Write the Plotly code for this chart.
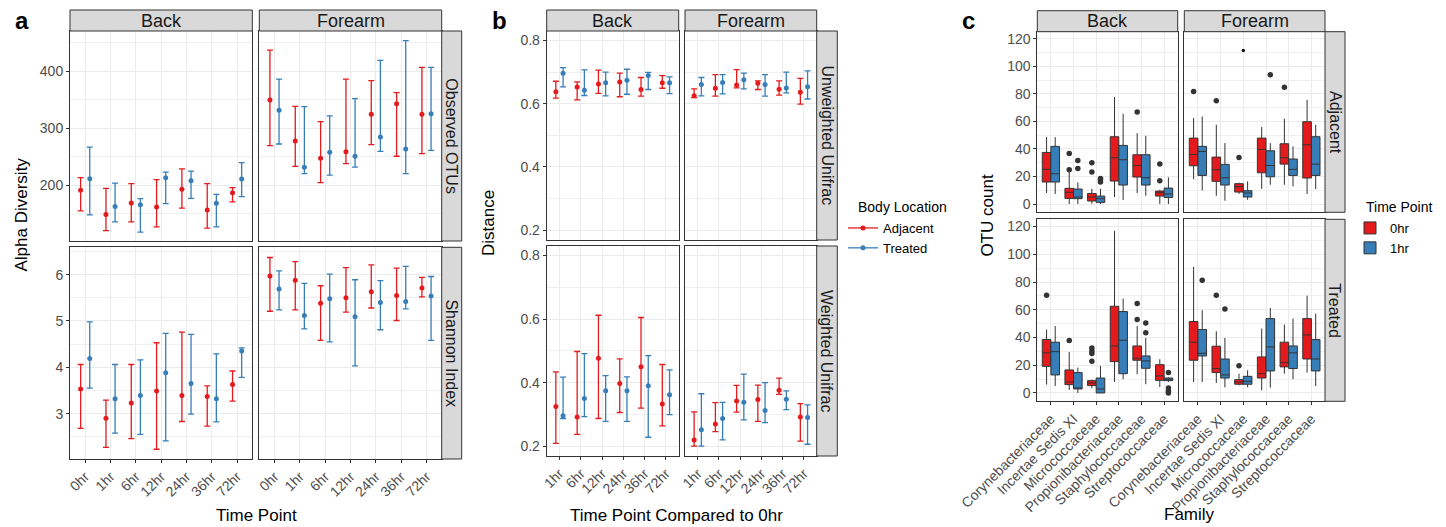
import plotly.graph_objects as go

W, H = 1446, 527
RED, BLUE = '#E41A1C', '#377EB8'
DARK = '#333333'
FONT = 'Liberation Sans, Arial, Helvetica, sans-serif'

# ---------------- Panel a : alpha diversity (mean, upper, lower) ----------------
time_a = ['0hr', '1hr', '6hr', '12hr', '24hr', '36hr', '72hr']

a_obs_back_adj = [191.2, 149, 169, 162, 193, 156.7, 187]
a_obs_back_adj_hi = [213.5, 194.7, 203, 210, 228.7, 203, 196]
a_obs_back_adj_lo = [155, 120.5, 136, 127, 160, 125, 170.8]
a_obs_back_trt = [211.7, 163, 166, 213.5, 208, 168.4, 211]
a_obs_back_trt_hi = [267, 204, 176.6, 223, 225, 184, 240]
a_obs_back_trt_lo = [148, 136, 118, 168, 177, 127, 180]

a_obs_fore_adj = [349.7, 277.8, 247.4, 259, 324.6, 343.3, 324.6]
a_obs_fore_adj_hi = [437.4, 338.6, 311.7, 386.5, 383.6, 362.6, 407]
a_obs_fore_adj_lo = [269.6, 233.3, 204.7, 238, 271.3, 251, 255.6]
a_obs_fore_trt = [331.6, 231.6, 257.9, 251, 284.8, 263.7, 325.7]
a_obs_fore_trt_hi = [386.5, 338, 322, 352, 419.3, 453.8, 407]
a_obs_fore_trt_lo = [272.5, 220.5, 218, 232, 259.6, 220.5, 261.4]

a_sha_back_adj = [3.53, 2.90, 3.23, 3.49, 3.39, 3.37, 3.63]
a_sha_back_adj_hi = [4.06, 3.29, 4.06, 4.53, 4.76, 3.60, 3.92]
a_sha_back_adj_lo = [2.68, 2.27, 2.46, 2.23, 2.83, 2.73, 3.27]
a_sha_back_trt = [4.19, 3.32, 3.39, 3.88, 3.65, 3.32, 4.35]
a_sha_back_trt_hi = [4.98, 4.06, 4.16, 4.73, 4.71, 4.29, 4.42]
a_sha_back_trt_lo = [3.55, 2.58, 2.55, 2.41, 2.99, 2.82, 3.78]

a_sha_fore_adj = [5.97, 5.88, 5.38, 5.50, 5.63, 5.55, 5.71]
a_sha_fore_adj_hi = [6.37, 6.28, 5.76, 6.15, 6.21, 6.14, 5.94]
a_sha_fore_adj_lo = [5.21, 5.24, 4.58, 5.19, 5.28, 5.01, 5.52]
a_sha_fore_trt = [5.69, 5.12, 5.48, 5.09, 5.40, 5.42, 5.54]
a_sha_fore_trt_hi = [6.08, 5.81, 6.01, 5.89, 5.87, 6.18, 5.96]
a_sha_fore_trt_lo = [5.24, 4.83, 4.55, 4.03, 4.81, 5.26, 4.58]

# ---------------- Panel b : UniFrac distance to 0hr ----------------
time_b = ['1hr', '6hr', '12hr', '24hr', '36hr', '72hr']

b_unw_back_adj = [0.638, 0.653, 0.662, 0.669, 0.645, 0.666]
b_unw_back_adj_hi = [0.671, 0.669, 0.706, 0.697, 0.683, 0.689]
b_unw_back_adj_lo = [0.618, 0.612, 0.633, 0.622, 0.624, 0.649]
b_unw_back_trt = [0.696, 0.643, 0.666, 0.674, 0.689, 0.666]
b_unw_back_trt_hi = [0.714, 0.707, 0.700, 0.709, 0.699, 0.685]
b_unw_back_trt_lo = [0.653, 0.626, 0.625, 0.630, 0.645, 0.632]

b_unw_fore_adj = [0.625, 0.649, 0.659, 0.665, 0.646, 0.636]
b_unw_fore_adj_hi = [0.647, 0.692, 0.708, 0.672, 0.672, 0.680]
b_unw_fore_adj_lo = [0.619, 0.624, 0.650, 0.645, 0.627, 0.599]
b_unw_fore_trt = [0.661, 0.667, 0.676, 0.661, 0.650, 0.654]
b_unw_fore_trt_hi = [0.683, 0.692, 0.697, 0.692, 0.700, 0.704]
b_unw_fore_trt_lo = [0.625, 0.631, 0.647, 0.624, 0.634, 0.615]

b_wtd_back_adj = [0.325, 0.292, 0.477, 0.397, 0.450, 0.333]
b_wtd_back_adj_hi = [0.434, 0.498, 0.612, 0.475, 0.605, 0.457]
b_wtd_back_adj_lo = [0.209, 0.237, 0.287, 0.306, 0.320, 0.264]
b_wtd_back_trt = [0.296, 0.350, 0.374, 0.374, 0.390, 0.362]
b_wtd_back_trt_hi = [0.417, 0.491, 0.422, 0.418, 0.485, 0.440]
b_wtd_back_trt_lo = [0.287, 0.293, 0.278, 0.278, 0.228, 0.299]

b_wtd_fore_adj = [0.219, 0.270, 0.342, 0.347, 0.376, 0.292]
b_wtd_fore_adj_hi = [0.308, 0.337, 0.391, 0.392, 0.414, 0.334]
b_wtd_fore_adj_lo = [0.200, 0.246, 0.307, 0.278, 0.363, 0.216]
b_wtd_fore_trt = [0.252, 0.287, 0.338, 0.312, 0.348, 0.290]
b_wtd_fore_trt_hi = [0.365, 0.338, 0.427, 0.400, 0.374, 0.330]
b_wtd_fore_trt_lo = [0.200, 0.220, 0.283, 0.274, 0.315, 0.206]

# ---------------- Panel c : OTU count boxplots ----------------
families = ['Corynebacteriaceae', 'Incertae Sedis XI', 'Micrococcaceae',
            'Propionibacteriaceae', 'Staphylococcaceae', 'Streptococcaceae']

# Adjacent / Back
c_adj_back_0_q1 = [16, 4.1, 2.2, 16.7, 19.6, 5.8]
c_adj_back_0_med = [25.2, 8.5, 5.1, 33.6, 28, 8.2]
c_adj_back_0_q3 = [37.5, 11.4, 7.7, 48.9, 35.8, 9.4]
c_adj_back_0_lo = [8, 0, 0.2, 5.1, 8, 0]
c_adj_back_0_hi = [48.6, 23.2, 11.1, 77.7, 51.5, 10.4]
c_adj_back_0_out_fam = ['Incertae Sedis XI', 'Incertae Sedis XI', 'Micrococcaceae', 'Micrococcaceae',
                        'Staphylococcaceae', 'Streptococcaceae', 'Streptococcaceae']
c_adj_back_0_out_val = [36.8, 25, 30, 23.2, 66.8, 29, 17]

c_adj_back_1_q1 = [16, 3.9, 1.2, 13.8, 13.8, 4.8]
c_adj_back_1_med = [22, 5.1, 3.9, 32.2, 19.1, 7.3]
c_adj_back_1_q3 = [41.9, 10.9, 5.8, 42.6, 35.8, 11.6]
c_adj_back_1_lo = [7.3, 0, 0, 2.9, 6, 0]
c_adj_back_1_hi = [48.6, 15.7, 11.1, 65.6, 49.6, 19.4]
c_adj_back_1_out_fam = ['Incertae Sedis XI', 'Incertae Sedis XI', 'Micrococcaceae', 'Micrococcaceae', 'Micrococcaceae']
c_adj_back_1_out_val = [31.7, 25.9, 18.6, 17.4, 16]

# Adjacent / Forearm
c_adj_fore_0_q1 = [27.8, 16.5, 8.7, 22.7, 29, 18.9]
c_adj_fore_0_med = [36, 24.9, 12.6, 39.7, 33.6, 43.1]
c_adj_fore_0_q3 = [47.9, 34.1, 14.8, 47.9, 43.8, 59.8]
c_adj_fore_0_lo = [18.1, 6, 7.3, 10.9, 14, 7.3]
c_adj_fore_0_hi = [62.4, 57.6, 15.5, 55.9, 62, 75.7]
c_adj_fore_0_out_fam = ['Corynebacteriaceae', 'Incertae Sedis XI', 'Micrococcaceae', 'Staphylococcaceae']
c_adj_fore_0_out_val = [81.8, 75, 33.9, 84.9]

c_adj_fore_1_q1 = [20.8, 13.8, 5.1, 19.8, 20.8, 20.8]
c_adj_fore_1_med = [38.2, 19.1, 8, 28, 25.2, 29]
c_adj_fore_1_q3 = [41.9, 28.8, 9.7, 38.7, 32.7, 48.9]
c_adj_fore_1_lo = [9.9, 2.4, 3.1, 14, 12.8, 10.9]
c_adj_fore_1_hi = [63.6, 44.3, 16.5, 44.3, 41.9, 57.6]
c_adj_fore_1_out_fam = ['Propionibacteriaceae']
c_adj_fore_1_out_val = [93.9]

c_adj_fore_stray_fam = ['Micrococcaceae']
c_adj_fore_stray_val = [111.5]

# Treated / Back
c_trt_back_0_q1 = [19.2, 6, 5.3, 22.6, 23.6, 9.1]
c_trt_back_0_med = [28.9, 7.9, 7.2, 33.9, 25, 12.3]
c_trt_back_0_q3 = [38.5, 16.6, 8.9, 62.5, 33.9, 20.4]
c_trt_back_0_lo = [6, 2.2, 3.4, 7.9, 13.5, 4.3]
c_trt_back_0_hi = [45.7, 29.6, 9.6, 116.9, 48.3, 24.3]
c_trt_back_0_out_fam = ['Corynebacteriaceae', 'Incertae Sedis XI', 'Micrococcaceae', 'Micrococcaceae',
                        'Micrococcaceae', 'Micrococcaceae', 'Staphylococcaceae', 'Staphylococcaceae']
c_trt_back_0_out_val = [70.5, 37.8, 32.5, 30.3, 28.4, 22.8, 64.5, 52.9]

c_trt_back_1_q1 = [13, 2.9, 0, 13.9, 17.8, 8.9]
c_trt_back_1_med = [29.8, 3.6, 2.9, 38, 23.1, 9.9]
c_trt_back_1_q3 = [36.6, 14.7, 10.8, 58.7, 26.7, 10.8]
c_trt_back_1_lo = [5, 0, 0, 9.9, 6.3, 7.9]
c_trt_back_1_hi = [48.3, 18.3, 19.5, 68.1, 39.7, 11.3]
c_trt_back_1_out_fam = ['Staphylococcaceae', 'Staphylococcaceae', 'Streptococcaceae', 'Streptococcaceae',
                        'Streptococcaceae', 'Streptococcaceae']
c_trt_back_1_out_val = [50.5, 43.5, 14.7, 3.6, 1.2, 0]

# Treated / Forearm
c_trt_fore_0_q1 = [23.6, 14.7, 6.3, 10.8, 18.8, 24.5]
c_trt_fore_0_med = [36.6, 17.6, 7.9, 13.9, 21.9, 41.8]
c_trt_fore_0_q3 = [51.5, 33.7, 9.6, 26, 36.6, 53.6]
c_trt_fore_0_lo = [7.9, 7.2, 5.5, 1.9, 13.9, 14.7]
c_trt_fore_0_hi = [90.9, 44.5, 13.9, 46.4, 49.3, 70.2]
c_trt_fore_0_out_fam = ['Incertae Sedis XI', 'Micrococcaceae']
c_trt_fore_0_out_val = [70.5, 19.7]

c_trt_fore_1_q1 = [26.7, 10.8, 6.3, 15.9, 17.6, 15.9]
c_trt_fore_1_med = [28.6, 13, 8.4, 33.2, 28.9, 24.5]
c_trt_fore_1_q3 = [45.7, 24.5, 12, 53.6, 33.9, 38.5]
c_trt_fore_1_lo = [7.9, 4.1, 4.1, 3.8, 9.9, 5]
c_trt_fore_1_hi = [59.6, 39.7, 16.4, 61.3, 53.6, 57.2]
c_trt_fore_1_out_fam = ['Corynebacteriaceae', 'Incertae Sedis XI']
c_trt_fore_1_out_val = [81.3, 60.6]

# ============================ figure building ============================
fig = go.Figure()
axes = {}
shapes = []
annots = []
count = [0]


def new_axes(xpx, ypx, xr, yr, ticktext, show_x, show_y, ydtick, yfmt):
    count[0] += 1
    n = count[0]
    s = '' if n == 1 else str(n)
    common = dict(showline=True, mirror=True, linecolor=DARK, linewidth=1,
                  showgrid=True, gridcolor='#EBEBEB', gridwidth=1, zeroline=False,
                  ticklen=3, tickwidth=1, tickcolor=DARK, automargin=False, fixedrange=True,
                  tickfont=dict(size=14, color='#4D4D4D', family=FONT))
    axes['xaxis' + s] = dict(common, domain=[xpx[0] / W, xpx[1] / W], range=xr, anchor='y' + s,
                             tickmode='array', tickvals=list(range(len(ticktext))), ticktext=ticktext,
                             showticklabels=show_x, ticks='outside' if show_x else '', tickangle=-45)
    axes['yaxis' + s] = dict(common, domain=[1 - ypx[1] / H, 1 - ypx[0] / H], range=yr, anchor='x' + s,
                             tickmode='linear', tick0=0, dtick=ydtick, tickformat=yfmt,
                             showticklabels=show_y, ticks='outside' if show_y else '',
                             minor=dict(tick0=0, dtick=ydtick / 2, showgrid=True,
                                        gridcolor='#F0F0F0', gridwidth=0.6, ticks=''))
    return 'x' + s, 'y' + s


def strip(x0, x1, y0, y1, text, angle=0, size=18):
    shapes.append(dict(type='rect', xref='paper', yref='paper', x0=x0 / W, x1=x1 / W,
                       y0=1 - y1 / H, y1=1 - y0 / H, fillcolor='#D9D9D9',
                       line=dict(color=DARK, width=1), layer='above'))
    annots.append(dict(xref='paper', yref='paper', x=(x0 + x1) / 2 / W, y=1 - (y0 + y1) / 2 / H,
                       text=text, showarrow=False, textangle=angle, xanchor='center', yanchor='middle',
                       font=dict(size=size, color='#1A1A1A', family=FONT)))


def label(x, y, text, size=17, angle=0, bold=False, anchor='center'):
    annots.append(dict(xref='paper', yref='paper', x=x / W, y=1 - y / H,
                       text=('<b>%s</b>' % text) if bold else text, showarrow=False,
                       textangle=angle, xanchor=anchor, yanchor='middle',
                       font=dict(size=size, color='black', family=FONT)))


def errpoints(xa, ya, mean, lo, hi, color, off):
    fig.add_trace(go.Scatter(
        x=[i + off for i in range(len(mean))], y=mean, mode='markers',
        marker=dict(color=color, size=5),
        error_y=dict(type='data', symmetric=False,
                     array=[h - m for h, m in zip(hi, mean)],
                     arrayminus=[m - l for m, l in zip(mean, lo)],
                     color=color, thickness=1.3, width=3),
        xaxis=xa, yaxis=ya, showlegend=False, hoverinfo='skip'))


def boxes(xa, ya, q1, med, q3, lo, hi, out_fam, out_val, color, off, name, show):
    fig.add_trace(go.Box(
        x=[i + off for i in range(len(families))], q1=q1, median=med, q3=q3,
        lowerfence=lo, upperfence=hi, width=0.38, fillcolor=color,
        line=dict(color=DARK, width=1), whiskerwidth=0, boxpoints=False,
        xaxis=xa, yaxis=ya, name=name, legend='legend2', legendgroup=name,
        showlegend=show, hoverinfo='skip'))
    fig.add_trace(go.Scatter(
        x=[families.index(f) + off for f in out_fam], y=out_val, mode='markers',
        marker=dict(color=DARK, size=5.5), xaxis=xa, yaxis=ya,
        showlegend=False, hoverinfo='skip'))


# ---------- panel a ----------
ax_a = [(70, 252.3), (259.3, 441.7)]
ay_a = [(31, 241), (247.3, 459)]
xr_a = [-0.6, 6.6]
A = 0.18
panel_a = {
    (0, 0): (a_obs_back_adj, a_obs_back_adj_lo, a_obs_back_adj_hi, a_obs_back_trt, a_obs_back_trt_lo, a_obs_back_trt_hi),
    (0, 1): (a_obs_fore_adj, a_obs_fore_adj_lo, a_obs_fore_adj_hi, a_obs_fore_trt, a_obs_fore_trt_lo, a_obs_fore_trt_hi),
    (1, 0): (a_sha_back_adj, a_sha_back_adj_lo, a_sha_back_adj_hi, a_sha_back_trt, a_sha_back_trt_lo, a_sha_back_trt_hi),
    (1, 1): (a_sha_fore_adj, a_sha_fore_adj_lo, a_sha_fore_adj_hi, a_sha_fore_trt, a_sha_fore_trt_lo, a_sha_fore_trt_hi),
}
yr_a = {0: ([102.3, 470.8], 100, 'd'), 1: ([2.02, 6.59], 1, 'd')}
for (r, c), (am, al, ah, tm, tl, th) in panel_a.items():
    yr, dt, fmt = yr_a[r]
    xa, ya = new_axes(ax_a[c], ay_a[r], xr_a, yr, time_a, r == 1, c == 0, dt, fmt)
    errpoints(xa, ya, am, al, ah, RED, -A)
    errpoints(xa, ya, tm, tl, th, BLUE, A)

# ---------- panel b ----------
ax_b = [(546.7, 678.7), (685, 816.7)]
ay_b = [(31, 240), (246, 456)]
xr_b = [-0.6, 5.6]
B = 0.17
panel_b = {
    (0, 0): (b_unw_back_adj, b_unw_back_adj_lo, b_unw_back_adj_hi, b_unw_back_trt, b_unw_back_trt_lo, b_unw_back_trt_hi),
    (0, 1): (b_unw_fore_adj, b_unw_fore_adj_lo, b_unw_fore_adj_hi, b_unw_fore_trt, b_unw_fore_trt_lo, b_unw_fore_trt_hi),
    (1, 0): (b_wtd_back_adj, b_wtd_back_adj_lo, b_wtd_back_adj_hi, b_wtd_back_trt, b_wtd_back_trt_lo, b_wtd_back_trt_hi),
    (1, 1): (b_wtd_fore_adj, b_wtd_fore_adj_lo, b_wtd_fore_adj_hi, b_wtd_fore_trt, b_wtd_fore_trt_lo, b_wtd_fore_trt_hi),
}
for (r, c), (am, al, ah, tm, tl, th) in panel_b.items():
    xa, ya = new_axes(ax_b[c], ay_b[r], xr_b, [0.169, 0.83], time_b, r == 1, c == 0, 0.2, '.1f')
    errpoints(xa, ya, am, al, ah, RED, -B)
    errpoints(xa, ya, tm, tl, th, BLUE, B)

# ---------- panel c ----------
ax_c = [(1037.3, 1177.7), (1184.3, 1325)]
ay_c = [(31.7, 212.3), (219.3, 401.3)]
xr_c = [-0.6, 5.6]
C = 0.19
panel_c = {
    (0, 0): [(c_adj_back_0_q1, c_adj_back_0_med, c_adj_back_0_q3, c_adj_back_0_lo, c_adj_back_0_hi, c_adj_back_0_out_fam, c_adj_back_0_out_val),
             (c_adj_back_1_q1, c_adj_back_1_med, c_adj_back_1_q3, c_adj_back_1_lo, c_adj_back_1_hi, c_adj_back_1_out_fam, c_adj_back_1_out_val)],
    (0, 1): [(c_adj_fore_0_q1, c_adj_fore_0_med, c_adj_fore_0_q3, c_adj_fore_0_lo, c_adj_fore_0_hi, c_adj_fore_0_out_fam, c_adj_fore_0_out_val),
             (c_adj_fore_1_q1, c_adj_fore_1_med, c_adj_fore_1_q3, c_adj_fore_1_lo, c_adj_fore_1_hi, c_adj_fore_1_out_fam, c_adj_fore_1_out_val)],
    (1, 0): [(c_trt_back_0_q1, c_trt_back_0_med, c_trt_back_0_q3, c_trt_back_0_lo, c_trt_back_0_hi, c_trt_back_0_out_fam, c_trt_back_0_out_val),
             (c_trt_back_1_q1, c_trt_back_1_med, c_trt_back_1_q3, c_trt_back_1_lo, c_trt_back_1_hi, c_trt_back_1_out_fam, c_trt_back_1_out_val)],
    (1, 1): [(c_trt_fore_0_q1, c_trt_fore_0_med, c_trt_fore_0_q3, c_trt_fore_0_lo, c_trt_fore_0_hi, c_trt_fore_0_out_fam, c_trt_fore_0_out_val),
             (c_trt_fore_1_q1, c_trt_fore_1_med, c_trt_fore_1_q3, c_trt_fore_1_lo, c_trt_fore_1_hi, c_trt_fore_1_out_fam, c_trt_fore_1_out_val)],
}
for (r, c), (s0, s1) in panel_c.items():
    xa, ya = new_axes(ax_c[c], ay_c[r], xr_c, [-6, 125.2], families, r == 1, c == 0, 20, 'd')
    first = (r, c) == (0, 0)
    boxes(xa, ya, *s0, RED, -C, '0hr', first)
    boxes(xa, ya, *s1, BLUE, C, '1hr', first)
    if (r, c) == (0, 1):
        fig.add_trace(go.Scatter(x=[families.index(f) for f in c_adj_fore_stray_fam], y=c_adj_fore_stray_val,
                                 mode='markers', marker=dict(color='#111111', size=3.5),
                                 xaxis=xa, yaxis=ya, showlegend=False, hoverinfo='skip'))

# legend entries for Body Location
for nm, col in [('Adjacent', RED), ('Treated', BLUE)]:
    fig.add_trace(go.Scatter(x=[None], y=[None], mode='lines+markers', name=nm,
                             line=dict(color=col, width=1.3), marker=dict(color=col, size=5),
                             xaxis='x', yaxis='y', legend='legend', showlegend=True))

# ---------- strips ----------
strip(70, 252.3, 10, 31, 'Back')
strip(259.3, 441.7, 10, 31, 'Forearm')
strip(441.7, 461.7, 31, 241, 'Observed OTUs', 90, 16)
strip(441.7, 461.7, 247.3, 459, 'Shannon Index', 90, 16)

strip(546.7, 678.7, 10, 31, 'Back')
strip(685, 816.7, 10, 31, 'Forearm')
strip(816.7, 837.3, 31, 240, 'Unweighted Unifrac', 90, 16)
strip(816.7, 837.3, 246, 456, 'Weighted Unifrac', 90, 16)

strip(1037.3, 1177.7, 10.7, 31.7, 'Back')
strip(1184.3, 1325, 10.7, 31.7, 'Forearm')
strip(1325, 1345, 31.7, 212.3, 'Adjacent', 90, 16)
strip(1325, 1345, 219.3, 401.3, 'Treated', 90, 16)

# ---------- titles ----------
label(22, 21, 'a', 24, bold=True)
label(499, 20, 'b', 24, bold=True)
label(969, 21, 'c', 24, bold=True)
label(20.5, 215, 'Alpha Diversity', 17, -90)
label(256.7, 515, 'Time Point', 17)
label(489, 223, 'Distance', 17, -90)
label(676.7, 515, 'Time Point Compared to 0hr', 17)
label(986.5, 216, 'OTU count', 17, -90)
label(1189, 514, 'Family', 17)
label(856, 207, 'Body Location', 14, anchor='left')
label(1364, 207, 'Time Point', 14, anchor='left')

fig.update_layout(
    width=W, height=H, autosize=False,
    margin=dict(l=0, r=0, t=0, b=0, pad=0),
    paper_bgcolor='white', plot_bgcolor='white',
    font=dict(family=FONT, size=14, color='black'),
    shapes=shapes, annotations=annots,
    legend=dict(x=843 / W, y=1 - 213 / H, xanchor='left', yanchor='top',
                bgcolor='rgba(0,0,0,0)', font=dict(size=13), tracegroupgap=0),
    legend2=dict(x=1350 / W, y=1 - 213 / H, xanchor='left', yanchor='top',
                 bgcolor='rgba(0,0,0,0)', font=dict(size=13), tracegroupgap=0),
    **axes,
)

fig.write_html("out.html", config={'displayModeBar': False},
               post_script="document.body.style.margin='0';")
